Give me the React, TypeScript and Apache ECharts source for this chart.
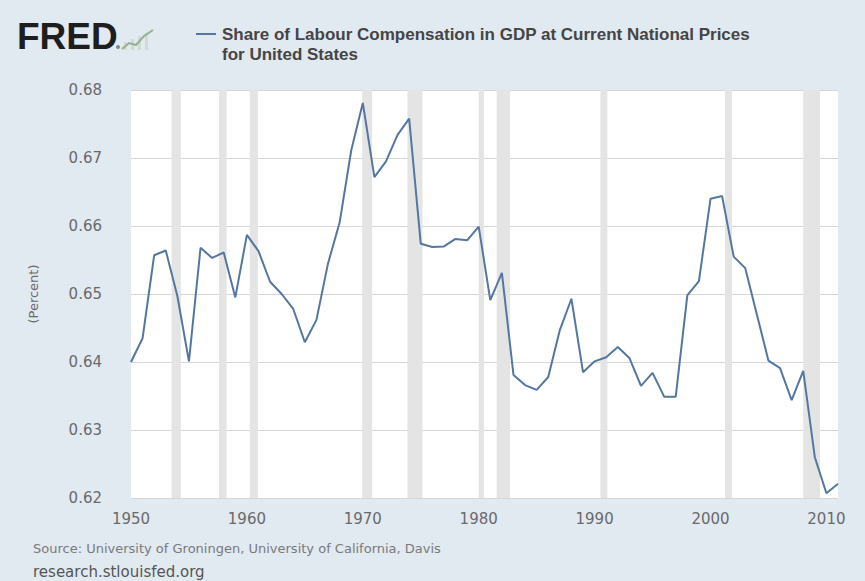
import React, { useEffect, useRef } from "react";
import * as echarts from "echarts";

const years = [
  1950, 1951, 1952, 1953, 1954, 1955, 1956, 1957, 1958, 1959,
  1960, 1961, 1962, 1963, 1964, 1965, 1966, 1967, 1968, 1969,
  1970, 1971, 1972, 1973, 1974, 1975, 1976, 1977, 1978, 1979,
  1980, 1981, 1982, 1983, 1984, 1985, 1986, 1987, 1988, 1989,
  1990, 1991, 1992, 1993, 1994, 1995, 1996, 1997, 1998, 1999,
  2000, 2001, 2002, 2003, 2004, 2005, 2006, 2007, 2008, 2009,
  2010, 2011,
];

const laborShare = [
  0.6400, 0.6435, 0.6557, 0.6564, 0.6497, 0.6401, 0.6568, 0.6553, 0.6561, 0.6495,
  0.6587, 0.6563, 0.6518, 0.6500, 0.6478, 0.6429, 0.6462, 0.6545, 0.6605, 0.6711,
  0.6781, 0.6672, 0.6695, 0.6734, 0.6758, 0.6574, 0.6569, 0.6570, 0.6581, 0.6579,
  0.6599, 0.6491, 0.6531, 0.6381, 0.6366, 0.6359, 0.6378, 0.6447, 0.6493, 0.6385,
  0.6401, 0.6407, 0.6422, 0.6406, 0.6365, 0.6384, 0.6349, 0.6349, 0.6498, 0.6519,
  0.6640, 0.6644, 0.6555, 0.6538, 0.6470, 0.6402, 0.6391, 0.6344, 0.6387, 0.6260,
  0.6207, 0.6221,
];

const recessionStart = [1953.5, 1957.6, 1960.25, 1969.95, 1973.85, 1980.0, 1981.55, 1990.5, 2001.25, 2008.0];
const recessionEnd = [1954.3, 1958.25, 1960.95, 1970.8, 1975.15, 1980.45, 1982.7, 1991.1, 2001.85, 2009.45];

const seriesName = "Share of Labour Compensation in GDP at Current National Prices";
const seriesName2 = "for United States";
const yAxisTitle = "(Percent)";
const sourceText = "Source: University of Groningen, University of California, Davis";
const siteText = "research.stlouisfed.org";

const LINE_COLOR = "#55779f";

export default function App() {
  const ref = useRef<HTMLDivElement>(null);

  useEffect(() => {
    document.body.style.margin = "0";
    if (!ref.current) return;
    const chart = echarts.init(ref.current, undefined, { renderer: "svg" });

    const data = years.map((y, i) => [y, laborShare[i]]);
    const bands = recessionStart.map((s, i) => [{ xAxis: s }, { xAxis: recessionEnd[i] }]);

    chart.setOption({
      animation: false,
      backgroundColor: "#e1e9f1",
      grid: {
        left: 131,
        right: 27,
        top: 90,
        bottom: 83,
        show: true,
        backgroundColor: "#ffffff",
        borderWidth: 0,
      },
      xAxis: {
        type: "value",
        min: 1950,
        max: 2011,
        interval: 10,
        axisLine: { show: false },
        axisTick: { show: false },
        splitLine: { show: false },
        axisLabel: {
          showMaxLabel: false,
          margin: 13,
          color: "#6a6a6a",
          fontFamily: "DejaVu Sans",
          fontSize: 15,
          formatter: (v: number) => (v % 10 === 0 ? String(v) : ""),
        },
      },
      yAxis: {
        type: "value",
        min: 0.62,
        max: 0.68,
        interval: 0.01,
        name: yAxisTitle,
        nameLocation: "middle",
        nameGap: 91,
        nameRotate: 90,
        nameTextStyle: { color: "#6a6a6a", fontFamily: "DejaVu Sans", fontSize: 13 },
        axisLine: { show: false },
        axisTick: { show: false },
        splitLine: { show: true, lineStyle: { color: "#d6d6d6", width: 1 } },
        axisLabel: {
          margin: 29,
          color: "#6a6a6a",
          fontFamily: "DejaVu Sans",
          fontSize: 15,
          formatter: (v: number) => v.toFixed(2),
        },
      },
      series: [
        {
          type: "line",
          data: [],
          silent: true,
          markArea: {
            silent: true,
            itemStyle: { color: "#e4e4e4" },
            data: bands,
          },
        },
        {
          type: "line",
          name: seriesName,
          data,
          showSymbol: false,
          lineStyle: { color: LINE_COLOR, width: 2 },
          itemStyle: { color: LINE_COLOR },
          z: 5,
        },
      ],
      graphic: [
        {
          type: "text",
          left: 17,
          top: 18,
          style: {
            text: "FRED",
            fill: "#1e1e1e",
            font: "bold 37px 'Liberation Sans', Arial, sans-serif",
          },
        },
        {
          type: "circle",
          shape: { cx: 118, cy: 47, r: 2 },
          style: { fill: "#888888" },
        },
        {
          type: "rect",
          shape: { x: 124, y: 42, width: 3, height: 8 },
          style: { fill: "#d2dad2" },
        },
        {
          type: "rect",
          shape: { x: 131, y: 39, width: 3, height: 11 },
          style: { fill: "#d2dad2" },
        },
        {
          type: "rect",
          shape: { x: 138, y: 36, width: 3, height: 14 },
          style: { fill: "#d2dad2" },
        },
        {
          type: "rect",
          shape: { x: 145, y: 33, width: 3, height: 17 },
          style: { fill: "#d2dad2" },
        },
        {
          type: "polyline",
          shape: { points: [[122, 49], [129, 43], [136, 45], [144, 36], [153, 30]] },
          style: { stroke: "#93b090", lineWidth: 2, fill: "none" },
        },
        {
          type: "line",
          shape: { x1: 196, y1: 34, x2: 216, y2: 34 },
          style: { stroke: LINE_COLOR, lineWidth: 2 },
        },
        {
          type: "text",
          left: 222,
          top: 26,
          style: {
            text: seriesName,
            fill: "#454545",
            font: "bold 17px 'Liberation Sans', Arial, sans-serif",
          },
        },
        {
          type: "text",
          left: 222,
          top: 46,
          style: {
            text: seriesName2,
            fill: "#454545",
            font: "bold 17px 'Liberation Sans', Arial, sans-serif",
          },
        },
        {
          type: "text",
          left: 33,
          top: 542,
          style: {
            text: sourceText,
            fill: "#7a7a7a",
            font: "13px 'DejaVu Sans', sans-serif",
          },
        },
        {
          type: "text",
          left: 33,
          top: 564,
          style: {
            text: siteText,
            fill: "#555555",
            font: "15px 'DejaVu Sans', sans-serif",
          },
        },
      ],
    });

    return () => chart.dispose();
  }, []);

  return (
    <div
      ref={ref}
      style={{ position: "fixed", left: 0, top: 0, width: 865, height: 581 }}
    />
  );
}
